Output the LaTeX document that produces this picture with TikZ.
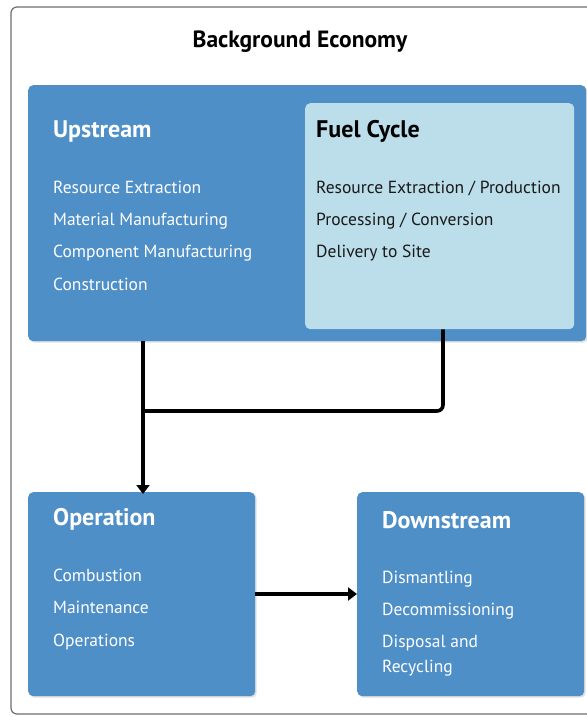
\documentclass[tikz,border=0pt]{standalone}
\usepackage{fontspec}
\setmainfont{PT Sans}
\usetikzlibrary{arrows.meta,shadows,calc}
\definecolor{boxblue}{HTML}{4F8FC7}
\definecolor{lightblue}{HTML}{BCDDEA}
\definecolor{framegray}{HTML}{6E6E6E}
\begin{document}
\begin{tikzpicture}[x=1pt,y=-1pt,
  box/.style={draw=none,fill=boxblue,rounded corners=5pt,anchor=north west,inner sep=0pt,
    drop shadow={shadow xshift=1.5pt,shadow yshift=-1.5pt,opacity=0.25}},
  fuelbox/.style={draw=none,fill=lightblue,rounded corners=5pt,anchor=north west,inner sep=0pt},
  head/.style={anchor=base west,font=\fontsize{24}{28}\selectfont\bfseries,text=white,inner sep=0pt},
  item/.style={anchor=base west,font=\fontsize{17.5}{21}\selectfont,text=white,inner sep=0pt},
  conn/.style={line width=3.6pt,-{Triangle[length=9pt,width=13pt]}},
  link/.style={line width=3.6pt,rounded corners=6pt}
]
\useasboundingbox (0,0) rectangle (586,717);
\fill[white] (0,0) rectangle (586,717);
\draw[framegray,line width=1.2pt,rounded corners=6pt] (596,7) -- (11,7) -- (11,714) -- (596,714);
\node[anchor=base,font=\fontsize{23.5}{28}\selectfont\bfseries,inner sep=0pt] (title) at (300,48) {Background Economy};

\node[box,minimum width=558,minimum height=256] (up) at (28,85) {};
\node[fuelbox,minimum width=269,minimum height=226] (fuel) at (305,103) {};
\node[box,minimum width=227,minimum height=204] (op) at (28,492) {};
\node[box,minimum width=227,minimum height=204] (down) at (357,492) {};

\node[head] (uph) at (53,137) {Upstream};
\node[item] (u1) at (53,193) {Resource Extraction};
\node[item] (u2) at (53,225) {Material Manufacturing};
\node[item] (u3) at (53,257) {Component Manufacturing};
\node[item] (u4) at (53,290) {Construction};

\node[head,text=black] (fh) at (316,137) {Fuel Cycle};
\node[item,text=black!90] (f1) at (316,193) {Resource Extraction / Production};
\node[item,text=black!90] (f2) at (316,225) {Processing / Conversion};
\node[item,text=black!90] (f3) at (316,257) {Delivery to Site};

\node[head] (oph) at (53,525) {Operation};
\node[item] (o1) at (53,581) {Combustion};
\node[item] (o2) at (53,613) {Maintenance};
\node[item] (o3) at (53,646) {Operations};

\node[head] (dh) at (382,528) {Downstream};
\node[item] (d1) at (382,583) {Dismantling};
\node[item] (d2) at (382,615) {Decommissioning};
\node[item] (d3) at (382,647) {Disposal and};
\node[item] (d4) at (382,672) {Recycling};

\coordinate (j) at (143,411);
\draw[conn] ([xshift=115pt]up.south west) -- ([xshift=115pt,yshift=-2pt]op.north west);
\draw[link] ([xshift=138pt]fuel.south west) |- (j);
\draw[conn] (op.east |- 0,594) -- (down.west |- 0,594);
\end{tikzpicture}
\end{document}
